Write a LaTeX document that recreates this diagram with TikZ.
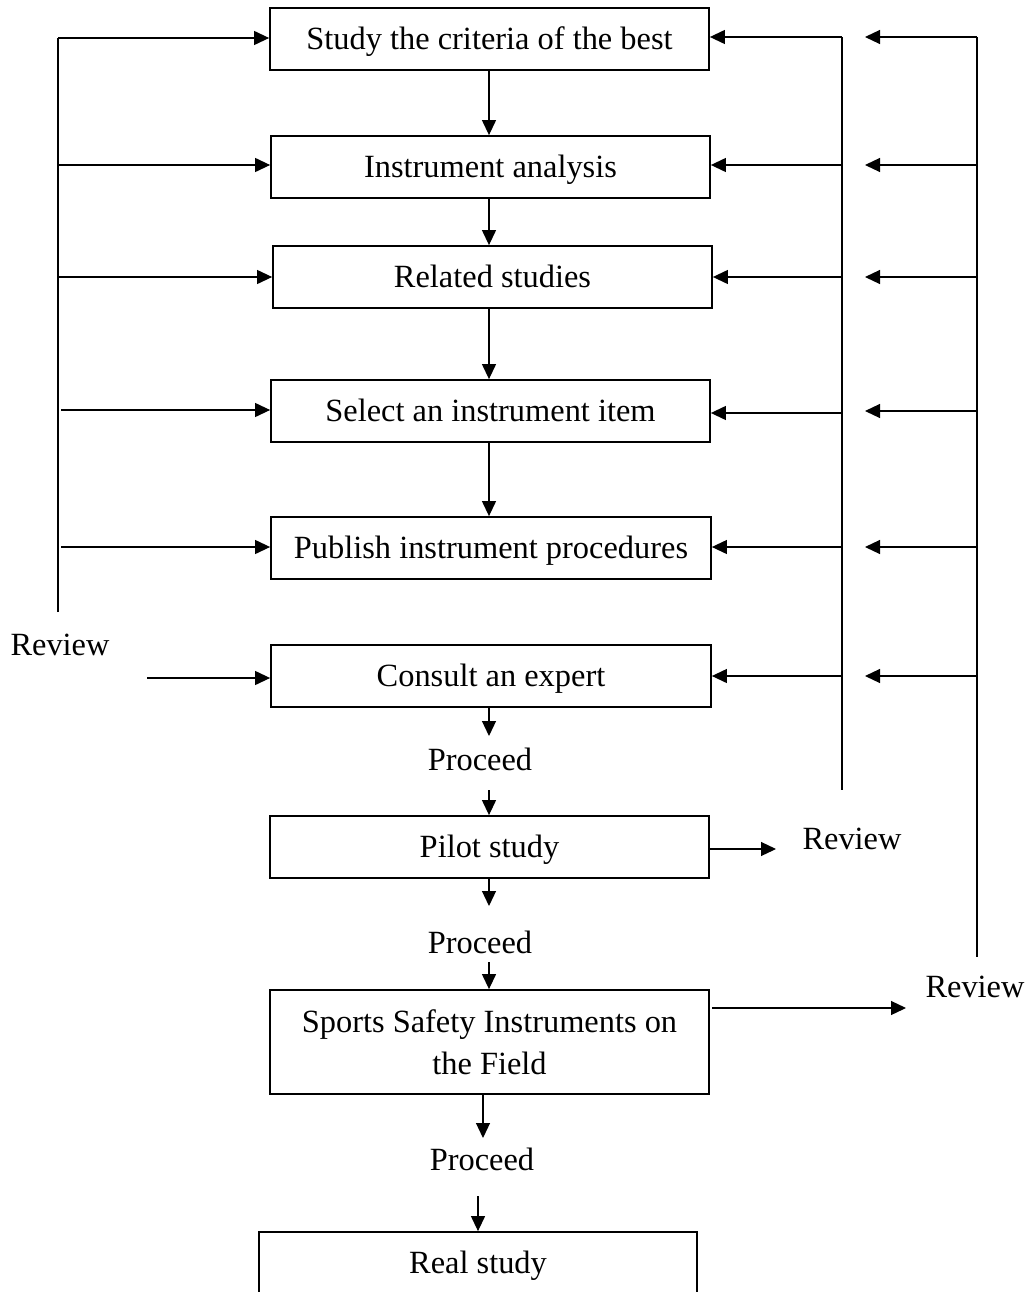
\documentclass[tikz,border=0pt]{standalone}
\usepackage{fontspec}
\setmainfont{Liberation Serif}
\usetikzlibrary{arrows.meta}
\begin{document}
\begin{tikzpicture}[x=1pt,y=-1pt,
  box/.style={draw,line width=1.8pt,minimum width=439pt,minimum height=62pt,inner sep=0pt,align=center,font=\fontsize{32.4}{42}\selectfont},
  one/.style={box,text height=28pt,text depth=7pt},
  lbl/.style={inner sep=0pt,font=\fontsize{32.4}{42}\selectfont},
  conn/.style={line width=1.2pt},
  arr/.style={conn,-{Triangle[length=15pt,width=14pt]}}]
\useasboundingbox (0,0) rectangle (1027,1292);
\clip (0,0) rectangle (1027,1292);
% boxes
\node[one] (b1) at (489.5,39) {Study the criteria of the best};
\node[one] (b2) at (490.5,167) {Instrument analysis};
\node[one] (b3) at (492.5,277) {Related studies};
\node[one] (b4) at (490.5,411) {Select an instrument item};
\node[one,minimum width=440pt] (b5) at (491,548) {Publish instrument procedures};
\node[one,minimum width=440pt] (b6) at (491,676) {Consult an expert};
\node[one] (b7) at (489.5,847) {Pilot study};
\node[box,minimum height=104pt] (b8) at (489.5,1042) {Sports Safety Instruments on\\the Field};
\node[one,minimum width=438pt] (b9) at (478,1263) {Real study};
% labels
\node[lbl] (p1) at (480,759) {Proceed};
\node[lbl] (p2) at (480,942) {Proceed};
\node[lbl] (p3) at (482,1159) {Proceed};
\node[lbl] (rl) at (60,645) {Review};
\node[lbl] (r1) at (852,839) {Review};
\node[lbl] (r2) at (975,987) {Review};
% main downward flow
\draw[arr] (b1.south -| 489,0) -- (b2.north -| 489,0);
\draw[arr] (b2.south -| 489,0) -- (b3.north -| 489,0);
\draw[arr] (b3.south -| 489,0) -- (b4.north -| 489,0);
\draw[arr] (b4.south -| 489,0) -- (b5.north -| 489,0);
\coordinate (d1) at (489,736);
\coordinate (d2) at (489,790);
\draw[arr] (b6.south -| d1) -- (d1);
\draw[arr] (d2) -- (b7.north -| d2);
\coordinate (d3) at (489,906);
\coordinate (d4) at (489,962);
\draw[arr] (b7.south -| d3) -- (d3);
\draw[arr] (d4) -- (b8.north -| d4);
\coordinate (d5) at (483,1138);
\coordinate (d6) at (478,1196);
\draw[arr] (b8.south -| d5) -- (d5);
\draw[arr] (d6) -- (b9.north -| d6);
% left feedback
\coordinate (lt) at (58,38);
\coordinate (lb) at (58,612);
\draw[conn] (lb) -- (lt);
\draw[arr] (lt) -- (b1.west |- lt);
\draw[arr] (58,165) -- (b2.west |- 0,165);
\draw[arr] (58,277) -- (b3.west |- 0,277);
\draw[arr] (61,410) -- (b4.west |- 0,410);
\draw[arr] (61,547) -- (b5.west |- 0,547);
\coordinate (lc) at (147,678);
\draw[arr] (lc) -- (b6.west |- lc);
% right feedback 1
\coordinate (rt1) at (842,37);
\coordinate (rb1) at (842,790);
\draw[conn] (rt1) -- (rb1);
\draw[arr] (rt1) -- (b1.east |- rt1);
\foreach \y/\b in {165/b2,277/b3,413/b4,547/b5,676/b6}
  \draw[arr] (842,\y) -- (\b.east |- 0,\y);
% right feedback 2
\coordinate (rt2) at (977,37);
\coordinate (rb2) at (977,957);
\draw[conn] (rt2) -- (rb2);
\foreach \y in {37,165,277,411,547,676}
  \draw[arr] (977,\y) -- (865,\y);
% review arrows
\coordinate (e1) at (776,849);
\draw[arr] (b7.east |- e1) -- (e1);
\coordinate (e2) at (906,1008);
\draw[arr] (712,1008) -- (e2);
\end{tikzpicture}
\end{document}
